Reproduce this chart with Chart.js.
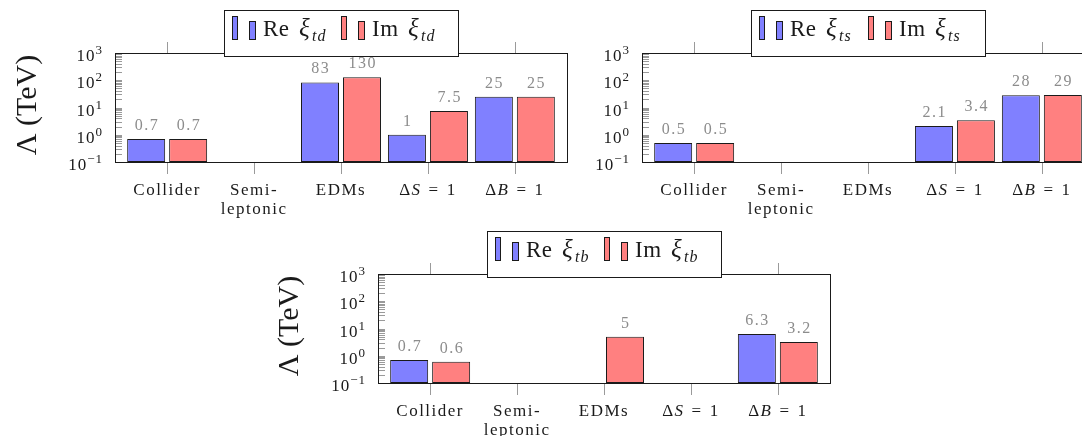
<!DOCTYPE html>
<html>
<head>
<meta charset="utf-8">
<script src="https://cdn.jsdelivr.net/npm/chart.js@4/dist/chart.umd.min.js"></script>
<style>
  html, body { margin: 0; padding: 0; background: #fff; overflow: hidden; width: 1082px; height: 436px; }
  canvas { position: absolute; }
</style>
</head>
<body>
<canvas id="cTd" width="590" height="220" style="left:0px;top:0px"></canvas>
<canvas id="cTs" width="550" height="220" style="left:560px;top:0px"></canvas>
<canvas id="cTb" width="610" height="216" style="left:250px;top:220px"></canvas>
<script>
// Categories of constraints (x axis)
const categories = ['Collider', 'Semi-\nleptonic', 'EDMs', 'ΔS = 1', 'ΔB = 1'];

// Lower bounds on Λ in TeV; null = no bound shown
const tdRe = [0.7, null, 83, 1, 25];
const tdIm = [0.7, null, 130, 7.5, 25];
const tsRe = [0.5, null, null, 2.1, 28];
const tsIm = [0.5, null, null, 3.4, 29];
const tbRe = [0.7, null, null, null, 6.3];
const tbIm = [0.6, null, 5, null, 3.2];

// Decade exponents labelled on the log axis (10^-1 ... 10^3)
const decadeExponents = [-1, 0, 1, 2, 3];
const seriesNames = ['Re', 'Im'];

const BLUE = 'rgb(128,128,255)';
const RED = 'rgb(255,128,128)';
const INK = '#1a1a1a';
const GREY_TICK = '#9a9a9a';
const GREY_TEXT = '#8c8c8c';
const SERIF = '"Liberation Serif", "Times New Roman", serif';

function setFont(ctx, size, italic) {
  ctx.font = (italic ? 'italic ' : '') + size + 'px ' + SERIF;
}

// x label: "ΔS = 1" gets an italic variable and spaced relation sign
function drawCategoryLine(ctx, text, cx, baseline) {
  const m = /^Δ([A-Za-z]) = (.*)$/.exec(text);
  ctx.letterSpacing = '1.5px';
  ctx.textAlign = 'left';
  const parts = m
    ? [['Δ', false, 0], [m[1], true, 7], ['=', false, 7], [m[2], false, 0]]
    : [[text, false, 0]];
  let total = 0;
  const widths = parts.map(([t, it, gap]) => {
    setFont(ctx, 17, it);
    const w = ctx.measureText(t).width;
    total += w + gap;
    return w;
  });
  let x = cx - total / 2;
  parts.forEach(([t, it, gap], k) => {
    setFont(ctx, 17, it);
    ctx.fillText(t, x, baseline);
    x += widths[k] + gap;
  });
}

// legend layout (pixels from the start of an entry)
const LEG = { pad: 8, name: 31, xi: 67, sub: 80, entry: 109, width: 234, h: 46 };

const decor = {
  id: 'decor',
  afterDraw(chart, _args, o) {
    const ctx = chart.ctx;
    const { left, right, top, bottom } = chart.chartArea;
    const xs = chart.scales.x, ys = chart.scales.y;
    const px = v => Math.round(v) + 0.5;
    ctx.save();

    // frame
    ctx.strokeStyle = INK;
    ctx.lineWidth = 1;
    ctx.strokeRect(px(left), px(top), Math.round(right - left), Math.round(bottom - top));

    // log ticks on the left edge, drawn inward
    ctx.strokeStyle = GREY_TICK;
    ctx.beginPath();
    for (let e = -1; e < 3; e++) {
      for (let k = 1; k < 10; k++) {
        if (e === -1 && k === 1) continue;
        const y = px(ys.getPixelForValue(k * Math.pow(10, e)));
        ctx.moveTo(left + 1, y);
        ctx.lineTo(left + 7, y);
      }
    }
    ctx.stroke();

    // category ticks above and below the frame
    ctx.beginPath();
    categories.forEach((_, i) => {
      const x = px(xs.getPixelForValue(i));
      ctx.moveTo(x, top - 11); ctx.lineTo(x, top);
      ctx.moveTo(x, bottom + 1); ctx.lineTo(x, bottom + 12);
    });
    ctx.stroke();

    // y tick labels 10^n
    ctx.fillStyle = INK;
    ctx.textAlign = 'left';
    ctx.textBaseline = 'alphabetic';
    decadeExponents.forEach(e => {
      const y = ys.getPixelForValue(Math.pow(10, e));
      const exp = e < 0 ? '\u2212' + (-e) : String(e);
      const edge = left - 12;
      setFont(ctx, 13, false); ctx.letterSpacing = '1px';
      const we = ctx.measureText(exp).width;
      ctx.fillText(exp, edge - we, y + 1);
      setFont(ctx, 17, false); ctx.letterSpacing = '1px';
      const wb = ctx.measureText('10').width;
      ctx.fillText('10', edge - we - wb, y + 8);
    });

    // x tick labels
    categories.forEach((label, i) => {
      const cx = xs.getPixelForValue(i);
      label.split('\n').forEach((line, j) => drawCategoryLine(ctx, line, cx, bottom + 33 + j * 19));
    });

    // value labels above bars
    ctx.fillStyle = GREY_TEXT;
    ctx.textAlign = 'center';
    setFont(ctx, 16, false);
    ctx.letterSpacing = '1.5px';
    chart.data.datasets.forEach((ds, di) => {
      const meta = chart.getDatasetMeta(di);
      ds.data.forEach((pt, i) => {
        if (pt.y === null) return;
        const el = meta.data[i];
        ctx.fillText(String(pt.y), el.x + 0.75, el.y - 9);
      });
    });

    // legend
    ctx.letterSpacing = '0px';
    const boxW = LEG.width;
    const boxL = Math.round((left + right) / 2 - boxW / 2);
    const boxT = Math.round(top - 43);
    ctx.fillStyle = '#fff';
    ctx.fillRect(boxL, boxT, boxW, LEG.h);
    ctx.strokeStyle = INK;
    ctx.strokeRect(boxL + 0.5, boxT + 0.5, boxW, LEG.h);
    const base = boxT + 26;
    [BLUE, RED].forEach((col, k) => {
      const x = boxL + LEG.pad + k * LEG.entry;
      ctx.fillStyle = col;
      ctx.strokeStyle = INK;
      ctx.fillRect(x, boxT + 6, 5, 23);
      ctx.strokeRect(x + 0.5, boxT + 6.5, 5, 23);
      ctx.fillRect(x + 17, boxT + 11, 6, 18);
      ctx.strokeRect(x + 17.5, boxT + 11.5, 6, 18);
      ctx.fillStyle = INK;
      ctx.textAlign = 'left';
      setFont(ctx, 23, false); ctx.letterSpacing = '0.5px';
      ctx.fillText(seriesNames[k], x + LEG.name, base);
      setFont(ctx, 25, true); ctx.letterSpacing = '0px';
      ctx.fillText('ξ', x + LEG.xi, base);
      setFont(ctx, 16, true); ctx.letterSpacing = '1px';
      ctx.fillText(o.sub, x + LEG.sub, base + 5);
      ctx.letterSpacing = '0px';
    });

    // y axis title
    if (o.title) {
      ctx.fillStyle = INK;
      ctx.translate(o.title.x, o.title.y);
      ctx.rotate(-Math.PI / 2);
      setFont(ctx, 30, false);
      ctx.letterSpacing = '0px';
      ctx.textAlign = 'center';
      ctx.fillText('Λ (TeV)', 0, 0);
    }
    ctx.restore();
  }
};

function makeChart(id, re, im, sub, padding, title) {
  const toPoints = arr => arr.map((v, i) => ({ x: i, y: v }));
  return new Chart(document.getElementById(id), {
    type: 'bar',
    data: {
      datasets: [
        { label: 'Re ξ' + sub, data: toPoints(re), backgroundColor: BLUE, borderColor: INK, borderWidth: 1, borderSkipped: false },
        { label: 'Im ξ' + sub, data: toPoints(im), backgroundColor: RED, borderColor: INK, borderWidth: 1, borderSkipped: false }
      ]
    },
    options: {
      responsive: false,
      animation: false,
      events: [],
      layout: { padding },
      datasets: { bar: { categoryPercentage: 0.966, barPercentage: 0.905 } },
      scales: {
        x: {
          type: 'linear', min: -0.6, max: 4.6, offset: false, display: false,
          afterBuildTicks: s => { s.ticks = categories.map((_, i) => ({ value: i })); }
        },
        y: { type: 'logarithmic', min: 0.1, max: 1000, display: false }
      },
      plugins: {
        legend: { display: false },
        tooltip: { enabled: false },
        decor: { sub, title }
      }
    },
    plugins: [decor]
  });
}

makeChart('cTd', tdRe, tdIm, 'td', { left: 115, top: 53, right: 23, bottom: 58 }, { x: 36, y: 105 });
makeChart('cTs', tsRe, tsIm, 'ts', { left: 82, top: 53, right: 16, bottom: 58 }, null);
makeChart('cTb', tbRe, tbIm, 'tb', { left: 128, top: 54, right: 30, bottom: 53 }, { x: 48, y: 106 });
</script>
</body>
</html>
